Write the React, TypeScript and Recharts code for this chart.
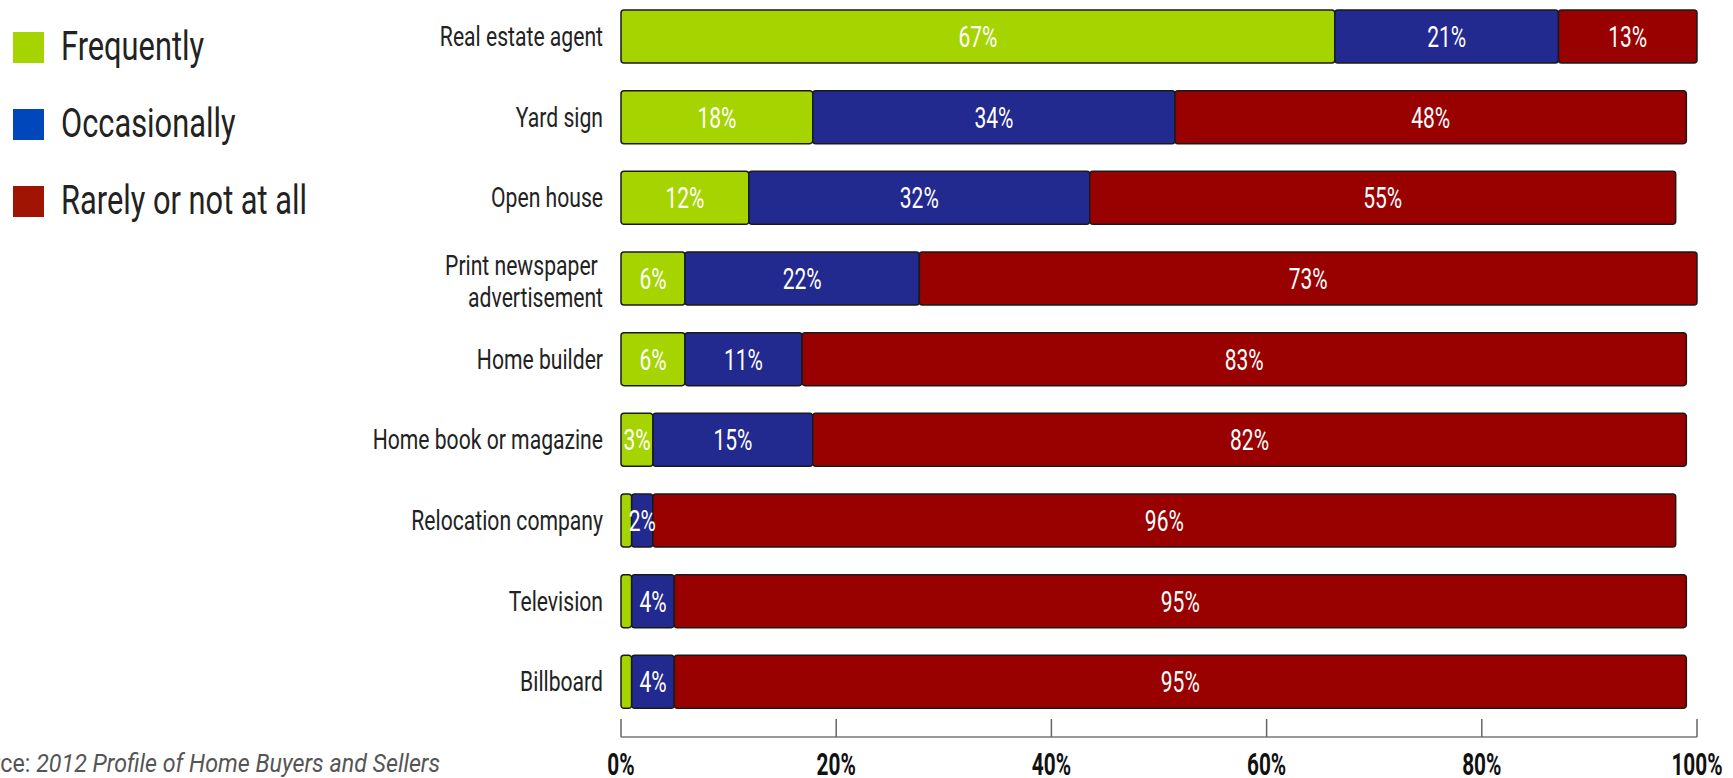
import React from 'react';
import { BarChart, Bar, XAxis, YAxis, LabelList } from 'recharts';

// Share of buyers who used each source (labels as printed, in %)
const categories = [
  'Real estate agent',
  'Yard sign',
  'Open house',
  'Print newspaper\u00A0\nadvertisement',
  'Home builder',
  'Home book or magazine',
  'Relocation company',
  'Television',
  'Billboard',
];
const frequently = [67, 18, 12, 6, 6, 3, 1, 1, 1];
const occasionally = [21, 34, 32, 22, 11, 15, 2, 4, 4];
const rarely = [13, 48, 55, 73, 83, 82, 96, 95, 95];

const seriesNames = ['Frequently', 'Occasionally', 'Rarely or not at all'];
const barColors = ['#a6d400', '#22298f', '#990000'];
const legendColors = ['#a6d400', '#0047bb', '#a01404'];

// the printed axis runs a little longer than the bars' 100%
const xTicks = [0, 20.2, 40.4, 60.6, 80.8, 101];
const xTickLabels = ['0%', '20%', '40%', '60%', '80%', '100%'];

const data = categories.map((name, i) => ({
  name,
  frequently: frequently[i],
  occasionally: occasionally[i],
  rarely: rarely[i],
}));

const CategoryTick = (props: any) => {
  const { x, y, payload } = props;
  const lines = String(payload.value).split('\n');
  const lineHeight = 32;
  const start = -((lines.length - 1) * lineHeight) / 2 + (lines.length > 1 ? 3 : 0);
  return (
    <g transform={`translate(${x},${y})`}>
      {lines.map((line, i) => (
        <text
          key={i}
          transform={`translate(0,${start + i * lineHeight}) scale(0.755,1)`}
          textAnchor="end"
          dominantBaseline="central"
          fontFamily="Roboto"
          fontSize={28}
          fill="#222"
        >
          {line}
        </text>
      ))}
    </g>
  );
};

const PercentTick = (props: any) => {
  const { x, y, index } = props;
  return (
    <g>
      <line x1={x} x2={x} y1={y - 18} y2={y} stroke="#666" strokeWidth={1.5} />
      <text
        transform={`translate(${x},${y + 38}) scale(0.65,1)`}
        textAnchor="middle"
        fontFamily="Roboto"
        fontWeight={700}
        fontSize={32}
        fill="#111"
      >
        {xTickLabels[index]}
      </text>
    </g>
  );
};

const ValueLabel = (props: any) => {
  const { value } = props;
  const x = Number(props.x);
  const y = Number(props.y);
  const width = Number(props.width);
  const height = Number(props.height);
  if (value == null || value < 2) return null;
  return (
    <text
      transform={`translate(${x + width / 2},${y + height / 2}) scale(0.7,1)`}
      textAnchor="middle"
      dominantBaseline="central"
      fill="#fff"
      fontFamily="Roboto"
      fontSize={30}
    >
      {value}%
    </text>
  );
};

const legendY = [47, 124, 201];

export default function App() {
  const keys = ['frequently', 'occasionally', 'rarely'];
  return (
    <div style={{ position: 'absolute', left: 0, top: 0, width: 1733, height: 778, background: '#fff', overflow: 'hidden' }}>
      {seriesNames.map((name, i) => (
        <div key={name} style={{ position: 'absolute', left: 13, top: legendY[i] - 16, height: 32, display: 'flex', alignItems: 'center' }}>
          <div style={{ width: 31, height: 31, background: legendColors[i] }} />
          <div
            style={{
              marginLeft: 17,
              fontFamily: 'Roboto',
              fontSize: 40,
              color: '#222',
              whiteSpace: 'nowrap',
              transform: 'scaleX(0.77)',
              transformOrigin: 'left center',
              lineHeight: '32px',
            }}
          >
            {name}
          </div>
        </div>
      ))}

      <div
        style={{
          position: 'absolute',
          right: 1733 - 440,
          top: 749,
          whiteSpace: 'nowrap',
          fontFamily: 'Roboto',
          fontSize: 25,
          color: '#555',
          transform: 'scaleX(0.93)',
          transformOrigin: 'right center',
          lineHeight: '30px',
        }}
      >
        Source: <i>2012 Profile of Home Buyers and Sellers</i>
      </div>

      <BarChart
        width={1733}
        height={778}
        layout="vertical"
        data={data}
        margin={{ top: -4, right: 36, bottom: 0, left: 1 }}
        barSize={53}
      >
        <XAxis
          type="number"
          domain={[0, 101]}
          ticks={xTicks}
          interval={0}
          height={41}
          tickSize={0}
          tickMargin={0}
          tickLine={false}
          axisLine={{ stroke: '#777', strokeWidth: 1.5 }}
          tick={<PercentTick />}
        />
        <YAxis
          type="category"
          dataKey="name"
          width={620}
          axisLine={false}
          tickLine={false}
          tickSize={0}
          tickMargin={18}
          interval={0}
          padding={{ top: 0, bottom: 15 }}
          tick={<CategoryTick />}
        />
        {keys.map((k, i) => (
          <Bar
            key={k}
            dataKey={k}
            name={seriesNames[i]}
            stackId="a"
            fill={barColors[i]}
            stroke="#1a1a1a"
            strokeWidth={1.5}
            radius={3}
            isAnimationActive={false}
          >
            <LabelList dataKey={k} content={<ValueLabel />} />
          </Bar>
        ))}
      </BarChart>
    </div>
  );
}
